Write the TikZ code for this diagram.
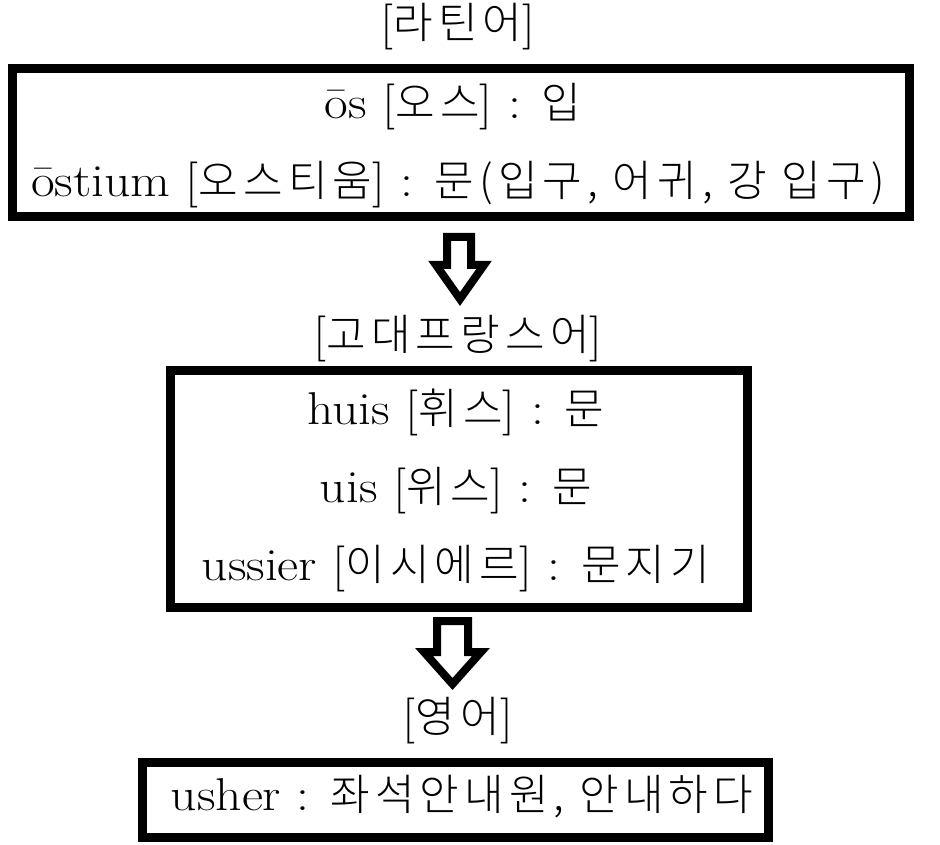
\documentclass[tikz,border=0pt]{standalone}
\usepackage{fontspec}
\setmainfont{Latin Modern Roman}[FakeStretch=1.12]
\newfontfamily\kr{Noto Sans CJK KR Light}[LetterSpace=12]
\newcommand\hg[1]{{\kr\fontsize{43}{50}\selectfont #1}}
\tikzset{
  frame/.style={draw=black, line width=9pt, fill=white, inner sep=0pt},
  txt/.style={font=\fontsize{46}{50}\selectfont, inner sep=0pt, anchor=base},
  bigarrow/.style={draw=black, line width=8pt, fill=white, line join=miter}
}
\begin{document}
\begin{tikzpicture}[x=1pt,y=-1pt]
\useasboundingbox (0,0) rectangle (940,845);
% boxes
\node[frame, minimum width=897pt, minimum height=148pt] (b1) at (461,142.5) {};
\node[frame, minimum width=577pt, minimum height=237pt] (b2) at (459,489) {};
\node[frame, minimum width=626pt, minimum height=75pt] (b3) at (455.5,800) {};
% headings
\node[txt] (h1) at (458,39) {[\hg{라틴어}]};
\node[txt] (h2) at (458,350) {[\hg{고대프랑스어}]};
\node[txt] (h3) at (458,732) {[\hg{영어}]};
% box 1
\node[txt] (l1) at (453,119) {ōs [\hg{오스}] : \hg{입}};
\node[txt] (l2) at (458,197) {ōstium [\hg{오스티움}] : \hg{문(입구, 어귀, 강 입구)}};
% box 2
\node[txt] (l3) at (456,424) {huis [\hg{휘스}] : \hg{문}};
\node[txt] (l4) at (456,502) {uis [\hg{위스}] : \hg{문}};
\node[txt] (l5) at (456,580) {ussier [\hg{이시에르}] : \hg{문지기}};
% box 3
\node[txt] (l6) at (462,810) {usher : \hg{좌석안내원, 안내하다}};
% arrows
\draw[bigarrow] (447,237) -- (471,237) -- (471,265) -- (484,265) -- (460,299) -- (436,265) -- (447,265) -- cycle;
\draw[bigarrow] (437,621) -- (468,621) -- (468,652) -- (481,652) -- (452.5,684) -- (424,652) -- (437,652) -- cycle;
\end{tikzpicture}
\end{document}
